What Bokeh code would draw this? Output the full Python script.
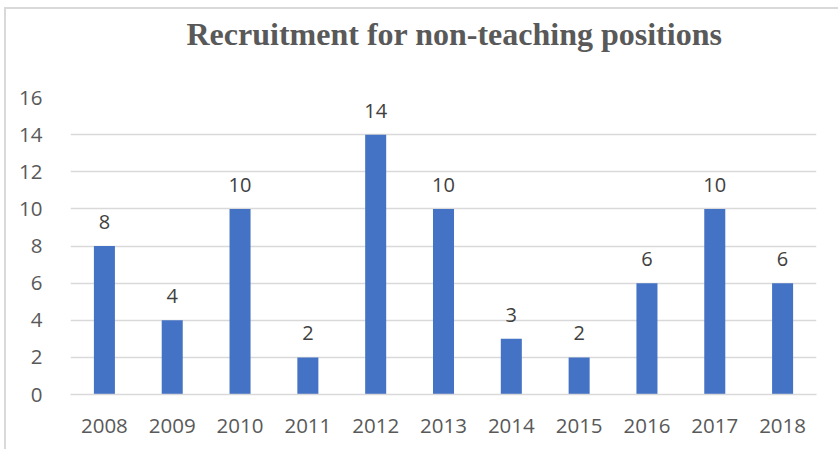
from bokeh.plotting import figure
from bokeh.models import ColumnDataSource, FactorRange, Range1d, FixedTicker, Title
from bokeh.core.properties import value
from bokeh.embed import file_html
from bokeh.resources import INLINE

years = ["2008", "2009", "2010", "2011", "2012", "2013", "2014", "2015", "2016", "2017", "2018"]
counts = [8, 4, 10, 2, 14, 10, 3, 2, 6, 10, 6]
y_ticks = [0, 2, 4, 6, 8, 10, 12, 14, 16]
title_text = "Recruitment for non-teaching positions"

src = ColumnDataSource(dict(x=years, y=counts, lbl=[str(c) for c in counts]))

p = figure(width=834, height=442, x_range=FactorRange(*years, range_padding=0),
           y_range=Range1d(0, 16), output_backend="svg", toolbar_location=None,
           min_border_left=64, min_border_right=24, min_border_top=0, min_border_bottom=57)
p.title = None
# spacer between title and plot area (nearest the frame)
spacer = Title(text=" ", text_font_size="10px", standoff=29, text_color="white")
p.add_layout(spacer, "above")
t = Title(text=title_text, align="left", offset=116, text_font="Liberation Serif",
          text_font_size="32px", text_font_style="bold", text_color="#595959",
          standoff=8)
p.add_layout(t, "above")

p.vbar(x="x", top="y", width=0.31, source=src, fill_color="#4472C4", line_color=None)
p.text(x="x", y="y", text="lbl", source=src, text_align="center", text_baseline="alphabetic",
       y_offset=-24, text_font=value("Open Sans"), text_font_size="20px", text_color="#404040")

p.outline_line_color = None
p.background_fill_color = "white"
p.border_fill_color = "white"
p.styles = {"border-left": "2px solid #d9d9d9", "border-top": "2px solid #d9d9d9",
            "margin-left": "4px", "margin-top": "7px"}

p.xgrid.grid_line_color = None
p.ygrid.grid_line_color = "#d9d9d9"
p.ygrid.grid_line_width = 1.3
p.yaxis.ticker = FixedTicker(ticks=y_ticks)

for ax in (p.xaxis, p.yaxis):
    ax.major_tick_line_color = None
    ax.minor_tick_line_color = None
    ax.major_label_text_font = "Open Sans"
    ax.major_label_text_font_size = "20.5px"
    ax.major_label_text_color = "#595959"
p.yaxis.axis_line_color = None
p.yaxis.major_label_standoff = 22
p.xaxis.axis_line_color = "#d9d9d9"
p.xaxis.axis_line_width = 1.3
p.xaxis.major_label_standoff = 18

open("out.html", "w").write(file_html(p, INLINE))
